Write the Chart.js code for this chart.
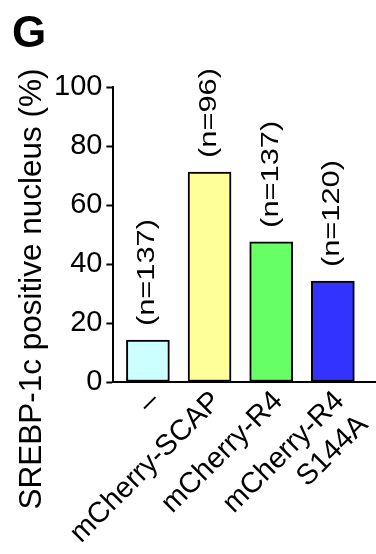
<!DOCTYPE html>
<html>
<head>
<meta charset="utf-8">
<script src="https://cdn.jsdelivr.net/npm/chart.js@4"></script>
<style>
html,body{margin:0;padding:0;background:#fff;}
canvas{display:block;}
</style>
</head>
<body>
<canvas id="c" width="376" height="554"></canvas>
<script>
const categories = ['\u2013', 'mCherry-SCAP', 'mCherry-R4', ['mCherry-R4', 'S144A']];
const values = [14.2, 71.2, 47.5, 34.2];
const nLabels = ['(n=137)', '(n=96)', '(n=137)', '(n=120)'];
const barColors = ['#ccffff', '#ffff99', '#66ff66', '#3333ff'];
const yTicks = [0, 20, 40, 60, 80, 100];
const yTitle = 'SREBP-1c positive nucleus (%)';
const panelLetter = 'G';

const FONT = '"Liberation Sans", Arial, Helvetica, sans-serif';

const annot = {
  id: 'annot',
  afterDatasetsDraw(chart) {
    const ctx = chart.ctx;
    const meta = chart.getDatasetMeta(0);
    ctx.save();
    ctx.fillStyle = '#000';
    ctx.font = '23px ' + FONT;
    meta.data.forEach((el, i) => {
      ctx.save();
      ctx.translate(el.x, el.y - 14);
      ctx.rotate(-Math.PI / 2);
      ctx.scale(1.34, 1);
      ctx.textAlign = 'left';
      ctx.textBaseline = 'middle';
      ctx.fillText(nLabels[i], 0, 0);
      ctx.restore();
    });
    ctx.restore();
  },
  afterDraw(chart) {
    const ctx = chart.ctx;
    ctx.save();
    ctx.fillStyle = '#000';
    ctx.font = 'bold 44px ' + FONT;
    ctx.textAlign = 'left';
    ctx.textBaseline = 'alphabetic';
    ctx.fillText(panelLetter, 12, 47);
    ctx.font = '31.5px ' + FONT;
    ctx.translate(41, 289);
    ctx.rotate(-Math.PI / 2);
    ctx.textAlign = 'center';
    ctx.fillText(yTitle, 0, 0);
    ctx.restore();
  }
};

new Chart(document.getElementById('c'), {
  type: 'bar',
  data: {
    datasets: [{
      data: values.map((v, i) => ({ x: i, y: v })),
      backgroundColor: barColors,
      borderColor: '#000',
      borderWidth: 2,
      borderSkipped: false,
      barThickness: 43
    }]
  },
  options: {
    responsive: false,
    animation: false,
    devicePixelRatio: 1,
    layout: { padding: { top: 87, left: 50, right: 0, bottom: 0 } },
    plugins: { legend: { display: false }, tooltip: { enabled: false } },
    scales: {
      x: {
        type: 'linear',
        offset: false,
        min: -0.56,
        max: 3.7,
        afterBuildTicks(scale) { scale.ticks = categories.map((c, i) => ({ value: i })); },
        afterFit(scale) { scale.height = 172; scale.paddingLeft = 0; scale.paddingRight = 0; },
        grid: { display: false, drawTicks: false },
        border: { display: true, color: '#000', width: 2 },
        ticks: {
          autoSkip: false,
          maxRotation: 45,
          minRotation: 45,
          padding: 3,
          labelOffset: 7,
          color: '#000',
          font: { family: FONT, size: 29, lineHeight: 1.15 },
          callback: (v) => categories[v]
        }
      },
      y: {
        min: 0,
        max: 100,
        afterBuildTicks(scale) { scale.ticks = yTicks.map(v => ({ value: v })); },
        afterFit(scale) { scale.paddingTop = 0; scale.paddingBottom = 0; },
        grid: { drawOnChartArea: false, drawTicks: true, tickLength: 7, tickColor: '#000', tickWidth: 2 },
        border: { display: true, color: '#000', width: 2 },
        ticks: {
          padding: 4,
          color: '#000',
          font: { family: FONT, size: 29 }
        }
      }
    }
  },
  plugins: [annot]
});
</script>
</body>
</html>
